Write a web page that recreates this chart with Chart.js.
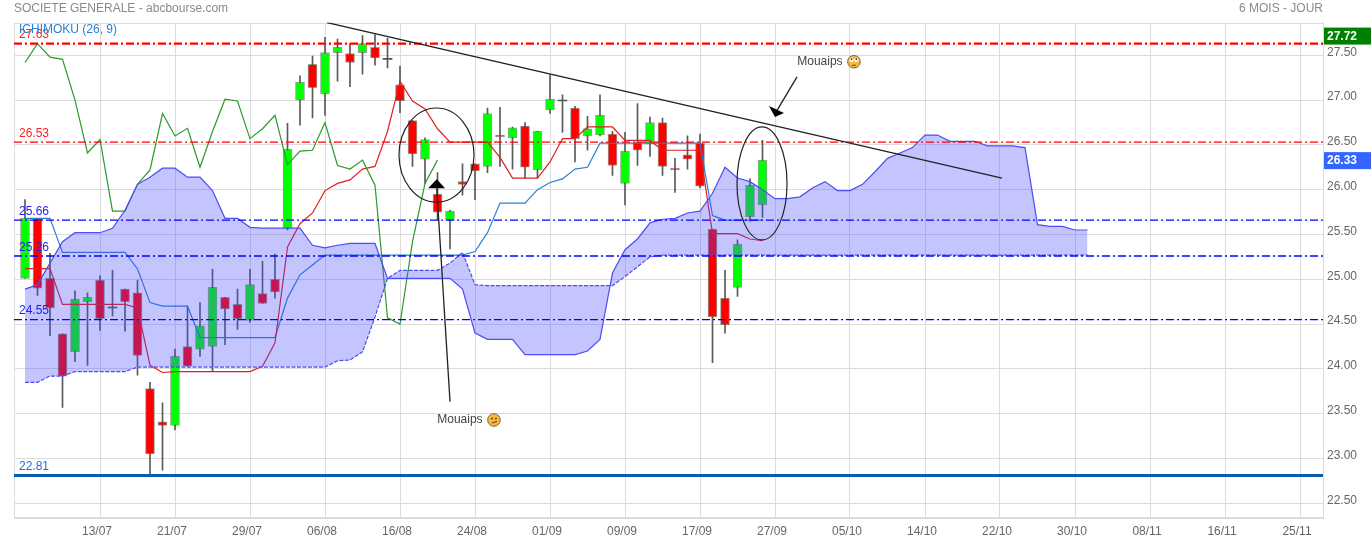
<!DOCTYPE html>
<html>
<head>
<meta charset="utf-8">
<title>SOCIETE GENERALE - abcbourse.com</title>
<script src="https://cdn.jsdelivr.net/npm/chart.js@4"></script>
<style>
  html, body { margin: 0; padding: 0; background: #fff; overflow: hidden; }
  canvas { display: block; }
</style>
</head>
<body>
<canvas id="chart" width="1371" height="541"></canvas>
<script>
// CANDLES
const opens = [25.01,25.68,25.01,24.39,24.19,24.75,24.99,24.68,24.89,24.85,
  23.78,23.41,23.37,24.25,24.22,24.25,24.80,24.72,24.54,24.84,
  25.00,25.57,27.00,27.40,27.07,27.53,27.52,27.53,27.59,27.455,
  27.17,26.77,26.34,25.95,25.66,26.09,26.29,26.26,26.61,26.58,
  26.71,26.22,26.89,26.99,26.91,26.60,26.61,26.62,26.07,26.53,
  26.51,26.75,26.24,26.39,26.52,25.56,24.79,24.91,25.70,25.83];
const closes = [25.68,24.90,24.68,23.92,24.78,24.80,24.56,24.68,24.75,24.15,
  23.05,23.37,24.14,24.03,24.48,24.91,24.67,24.56,24.94,24.73,
  24.86,26.45,27.20,27.14,27.53,27.59,27.42,27.63,27.47,27.455,
  26.99,26.40,26.56,25.75,25.76,26.06,26.21,26.85,26.59,26.69,
  26.25,26.65,27.01,26.99,26.57,26.68,26.83,26.27,26.43,26.44,
  26.75,26.26,26.22,26.34,26.04,24.58,24.49,25.39,26.05,26.33];
const highs = [25.89,25.68,25.29,24.39,24.87,24.85,25.04,25.10,24.89,24.99,
  23.85,23.62,24.22,24.69,24.74,25.11,24.80,24.89,25.11,25.20,
  25.28,26.74,27.27,27.49,27.70,27.68,27.63,27.72,27.73,27.69,
  27.38,26.77,26.58,26.19,25.77,26.29,26.29,26.91,26.92,26.70,
  26.75,26.65,27.28,27.06,26.93,26.82,27.06,26.65,26.64,26.96,
  26.81,26.80,26.35,26.60,26.62,25.56,25.10,25.44,26.12,26.55];
const lows = [25.01,24.82,24.37,23.57,24.08,24.04,24.43,24.59,24.42,23.93,
  22.83,22.87,23.32,24.03,24.14,23.97,24.27,24.44,24.52,24.73,
  24.79,25.55,26.72,26.80,26.83,27.21,27.15,27.29,27.39,27.36,
  26.86,26.26,26.07,25.66,25.34,25.94,25.89,26.19,26.26,26.23,
  26.13,26.13,26.85,26.64,26.31,26.44,26.60,26.16,25.83,26.27,
  26.37,26.16,25.97,26.23,26.02,24.07,24.40,24.81,25.65,25.69];

// ICHIMOKU
const tenkan = [25.12,25.12,25.12,24.72,24.72,24.72,24.72,24.72,24.72,24.68,
  24.04,23.96,23.97,23.97,23.97,23.97,23.97,23.97,23.97,24.03,
  24.29,25.36,25.62,25.74,25.99,26.07,26.11,26.23,26.26,26.65,
  27.21,26.99,26.90,26.68,26.53,26.53,26.53,26.53,26.36,26.13,
  26.13,26.13,26.31,26.57,26.57,26.70,26.70,26.70,26.55,26.55,
  26.55,26.44,26.44,26.44,26.44,25.51,25.51,25.51,25.45,25.43];
const kijun = [25.68,25.68,25.68,25.30,25.30,25.30,25.30,25.30,25.30,25.115,
  24.74,24.70,24.70,24.70,24.35,24.35,24.35,24.35,24.35,24.35,
  24.35,24.79,25.05,25.16,25.27,25.27,25.27,25.27,25.27,25.27,
  25.27,25.27,25.27,25.27,25.27,25.27,25.31,25.52,25.85,25.85,
  25.85,26.00,26.08,26.12,26.23,26.25,26.52,26.52,26.52,26.52,
  26.52,26.52,26.52,26.52,26.52,25.71,25.66,25.66,25.66,25.66];
const chikou = [27.42,27.63,27.48,27.455,27.00,26.41,26.56,25.76,25.76,26.06,
  26.22,26.85,26.60,26.685,26.25,26.65,27.01,26.99,26.57,26.68,
  26.83,26.28,26.43,26.44,26.75,26.27,26.23,26.33,26.05,24.57,
  24.50,25.42,26.07,26.33];
const spanA = [24.89,24.94,25.18,25.42,25.52,25.52,25.52,25.57,25.77,26.06,
  26.14,26.24,26.24,26.14,26.14,25.99,25.68,25.68,25.58,25.57,
  25.57,25.57,25.57,25.38,25.35,25.38,25.40,25.40,25.40,25.01,
  25.01,25.01,25.01,25.01,25.01,24.89,24.40,24.33,24.33,24.33,
  24.16,24.16,24.16,24.16,24.16,24.20,24.33,25.07,25.33,25.45,
  25.63,25.67,25.68,25.74,25.76,25.96,26.25,26.13,26.09,26.00,
  25.90,25.90,25.92,26.02,26.09,25.99,25.99,26.06,26.20,26.35,
  26.41,26.47,26.61,26.61,26.54,26.54,26.54,26.49,26.49,26.49,
  26.47,25.61,25.59,25.59,25.55,25.55];
const spanB = [23.85,23.85,23.92,23.92,23.97,23.97,23.97,23.97,23.97,24.02,
  24.02,24.02,24.02,24.02,24.02,24.02,24.02,24.02,24.02,24.02,
  24.02,24.02,24.02,24.02,24.02,24.09,24.10,24.19,24.58,25.01,
  25.10,25.10,25.10,25.10,25.18,25.30,24.94,24.93,24.93,24.93,
  24.93,24.93,24.93,24.93,24.93,24.93,24.93,24.93,25.03,25.14,
  25.25,25.27,25.27,25.27,25.27,25.27,25.27,25.27,25.27,25.27,
  25.27,25.27,25.27,25.27,25.27,25.27,25.27,25.27,25.27,25.27,
  25.27,25.27,25.27,25.27,25.27,25.27,25.27,25.27,25.27,25.27,
  25.27,25.27,25.27,25.27,25.27,25.27];

// HORIZONTAL LEVELS AND TRENDLINE
const levelValues = [27.63, 26.53, 25.66, 25.26, 24.55, 22.81];
const levelColors = ["#ff0000", "#ff0000", "#0000ff", "#0000ff", "#0000ff", "#0a5cb0"];
const levelLabelColors = ["#ff2020", "#ff2020", "#2222ee", "#2222ee", "#2222ee", "#1a70d0"];
const levelWidths = [2.4, 1.2, 1.4, 1.4, 1.4, 3];
const trendX = [24.16, 78.16];
const trendY = [27.865, 26.13];

// AXES
const yTicks = [22.5, 23, 23.5, 24, 24.5, 25, 25.5, 26, 26.5, 27, 27.5];
const xTicks = [6, 12, 18, 24, 30, 36, 42, 48, 54, 60, 66, 72, 78, 84, 90, 96, 102];
const xLabels = ["13/07", "21/07", "29/07", "06/08", "16/08", "24/08", "01/09", "09/09", "17/09",
  "27/09", "05/10", "14/10", "22/10", "30/10", "08/11", "16/11", "25/11"];
const xMin = -0.88, xMax = 103.84, yMin = 22.347, yMax = 27.866;

const lastHigh = 27.72;
const lastClose = 26.33;

const points = arr => arr.map((y, x) => ({ x, y }));
const flat = v => [{ x: xMin, y: v }, { x: xMax, y: v }];
const isDoji = i => opens[i] === closes[i];

Chart.defaults.font.family = "'Liberation Sans', Arial, sans-serif";
Chart.defaults.font.size = 12;

function lineSet(data, color, width, order) {
  return { type: "line", data, borderColor: color, borderWidth: width, pointRadius: 0, tension: 0, fill: false, order };
}

const cloudFill = "rgba(72,72,255,0.32)";
const cloudA = lineSet(points(spanA), "#4c4cf5", 1.2, 5);
const cloudB = lineSet(points(spanB), "#4c4cf5", 1.2, 4);
cloudB.borderDash = [4, 1.5];

const datasets = [
  {
    type: "bar",
    data: highs.map((h, i) => ({ x: i, y: [lows[i], h] })),
    backgroundColor: "#5a5a5a",
    barThickness: 1,
    grouped: false,
    order: 10
  },
  {
    type: "bar",
    data: opens.map((o, i) => ({ x: i, y: [o, closes[i]] })),
    backgroundColor: ctx => isDoji(ctx.dataIndex) ? "#555" : (closes[ctx.dataIndex] > opens[ctx.dataIndex] ? "#00ff00" : "#ff0000"),
    borderColor: ctx => isDoji(ctx.dataIndex) ? "#555" : "rgba(60,90,60,0.55)",
    borderWidth: ctx => isDoji(ctx.dataIndex) ? 0 : 1,
    borderSkipped: false,
    barThickness: 9,
    minBarLength: 1,
    grouped: false,
    order: 9
  },
  lineSet(points(kijun), "#2a7fd4", 1.2, 8),
  lineSet(points(tenkan), "#e02020", 1.2, 7),
  lineSet(points(chikou), "#2a9a2a", 1.2, 6),
  cloudB,
  cloudA
];
// the cloud is filled from span A to span B, on top of the candles
const cloudBIndex = datasets.indexOf(cloudB);
cloudA.fill = { target: cloudBIndex, above: cloudFill, below: cloudFill };

levelValues.forEach((v, i) => {
  const set = lineSet(flat(v), levelColors[i], levelWidths[i], 3);
  if (i < 5) set.borderDash = [8, 3, 2, 3];
  datasets.push(set);
});
datasets.push(lineSet(trendX.map((x, i) => ({ x, y: trendY[i] })), "#222", 1.3, 2));

// small yellow face that stands in for the emoji after "Mouaips"
function face(ctx, x, y, rolling) {
  ctx.beginPath();
  ctx.arc(x, y, 6.3, 0, Math.PI * 2);
  ctx.fillStyle = "#f6b93b";
  ctx.fill();
  ctx.strokeStyle = "#7a6a3a";
  ctx.lineWidth = 1;
  ctx.stroke();
  if (rolling) {
    ctx.fillStyle = "#fff";
    [-2.4, 2.4].forEach(dx => {
      ctx.beginPath();
      ctx.arc(x + dx, y - 1.8, 2.1, 0, Math.PI * 2);
      ctx.fill();
    });
    ctx.fillStyle = "#333";
    [-2.4, 2.4].forEach(dx => ctx.fillRect(x + dx - 0.8, y - 3.4, 1.6, 1.6));
    ctx.fillStyle = "#6a4a10";
    ctx.fillRect(x - 2, y + 3, 4, 1);
  } else {
    ctx.fillStyle = "#5a3a10";
    ctx.fillRect(x - 2.8, y - 2.2, 1.6, 1.6);
    ctx.fillRect(x + 1.2, y - 2.2, 1.6, 1.6);
    ctx.strokeStyle = "#5a3a10";
    ctx.beginPath();
    ctx.moveTo(x - 2, y + 3);
    ctx.lineTo(x + 3, y + 1.5);
    ctx.stroke();
  }
}

// frame, labels, drawn annotations and header text
const overlay = {
  id: "overlay",
  beforeDatasetsDraw(chart) {
    const { ctx, chartArea: a } = chart;
    ctx.save();
    ctx.strokeStyle = "#dcdcdc";
    ctx.lineWidth = 1;
    ctx.strokeRect(Math.round(a.left) + 0.5, Math.round(a.top) + 0.5, Math.round(a.right - a.left), Math.round(a.bottom - a.top));
    ctx.restore();
  },
  afterDatasetsDraw(chart) {
    const { ctx, chartArea: a, scales: { x, y } } = chart;
    ctx.save();
    ctx.textBaseline = "middle";
    ctx.font = "12px 'Liberation Sans', Arial, sans-serif";

    ctx.textAlign = "left";
    levelValues.forEach((v, i) => {
      ctx.fillStyle = levelLabelColors[i];
      ctx.fillText(v.toFixed(2), a.left + 5, y.getPixelForValue(v) - 8.5);
    });
    ctx.fillStyle = "#2a7fd4";
    ctx.fillText("ICHIMOKU (26, 9)", a.left + 5, 30);

    // ellipses, in data units for the centre
    ctx.strokeStyle = "#222";
    ctx.lineWidth = 1.2;
    [[32.92, 26.387, 37.5, 47], [58.96, 26.07, 25, 56.5]].forEach(e => {
      ctx.beginPath();
      ctx.ellipse(x.getPixelForValue(e[0]), y.getPixelForValue(e[1]), e[2], e[3], 0, 0, Math.PI * 2);
      ctx.stroke();
    });

    // arrows: start, tip, then the head corners relative to the tip
    [
      [34, 23.634, 32.94, 26.116, [[-8.7, 9], [8.3, 9]], 0, 9],
      [61.76, 27.26, 60, 26.81, [[-6, -11], [9, -4]], 1, -5]
    ].forEach(ar => {
      const tx = x.getPixelForValue(ar[2]), ty = y.getPixelForValue(ar[3]);
      ctx.strokeStyle = "#222";
      ctx.lineWidth = 1.3;
      ctx.beginPath();
      ctx.moveTo(x.getPixelForValue(ar[0]), y.getPixelForValue(ar[1]));
      ctx.lineTo(tx + ar[5], ty + ar[6]);
      ctx.stroke();
      ctx.fillStyle = "#000";
      ctx.beginPath();
      ctx.moveTo(tx, ty);
      ar[4].forEach(p => ctx.lineTo(tx + p[0], ty + p[1]));
      ctx.closePath();
      ctx.fill();
    });

    // annotations
    [[32.98, 23.43, 56.7, false], [61.78, 27.428, 56.7, true]].forEach(t => {
      const px = x.getPixelForValue(t[0]), py = y.getPixelForValue(t[1]);
      ctx.fillStyle = "#444";
      ctx.fillText("Mouaips", px, py);
      face(ctx, px + t[2], py, t[3]);
    });

    // header
    ctx.fillStyle = "#8a8a8a";
    ctx.fillText("SOCIETE GENERALE - abcbourse.com", a.left, 9);
    ctx.textAlign = "right";
    ctx.fillText("6 MOIS - JOUR", a.right, 9);

    // price badges on the right
    ctx.textAlign = "left";
    ctx.font = "bold 12px 'Liberation Sans', Arial, sans-serif";
    [[lastHigh, "#008000"], [lastClose, "#3366ff"]].forEach(b => {
      const py = y.getPixelForValue(b[0]);
      ctx.fillStyle = b[1];
      ctx.fillRect(a.right + 1, py - 8, 48, 17);
      ctx.fillStyle = "#fff";
      ctx.fillText(b[0].toFixed(2), a.right + 4, py + 1);
    });
    ctx.restore();
  }
};

new Chart(document.getElementById("chart"), {
  type: "line",
  data: { datasets },
  plugins: [overlay],
  options: {
    responsive: false,
    animation: false,
    events: [],
    layout: { padding: { left: 14, top: 22.5, right: 0, bottom: 0 } },
    plugins: { legend: { display: false }, tooltip: { enabled: false } },
    scales: {
      x: {
        type: "linear",
        offset: false,
        min: xMin,
        max: xMax,
        afterBuildTicks: s => { s.ticks = xTicks.map(value => ({ value })); },
        afterFit: s => { s.height = 24; },
        grid: { color: "#dcdcdc", drawTicks: false, offset: false },
        border: { color: "#dcdcdc" },
        ticks: {
          autoSkip: false,
          maxRotation: 0,
          color: "#666",
          padding: 7,
          labelOffset: -3,
          callback: v => xLabels[xTicks.indexOf(v)]
        }
      },
      y: {
        type: "linear",
        position: "right",
        min: yMin,
        max: yMax,
        afterBuildTicks: s => { s.ticks = yTicks.map(value => ({ value })); },
        afterFit: s => { s.width = 48; },
        grid: { color: "#dcdcdc", drawTicks: false },
        border: { color: "#dcdcdc" },
        ticks: {
          color: "#666",
          padding: 4,
          labelOffset: -3,
          callback: v => v.toFixed(2)
        }
      }
    }
  }
});
</script>
</body>
</html>
